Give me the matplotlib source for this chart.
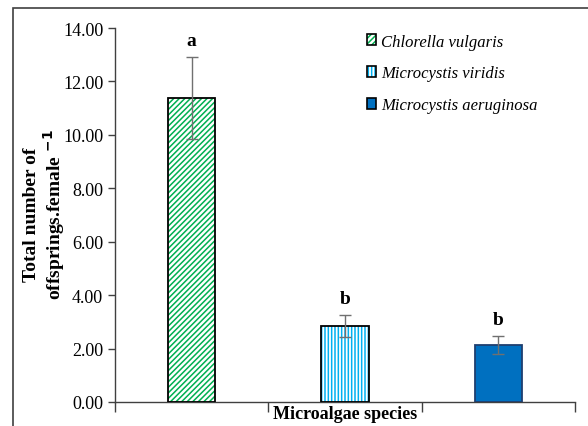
import numpy as np
import matplotlib.pyplot as plt
from matplotlib.patches import Rectangle
from matplotlib.legend_handler import HandlerTuple

species = ['Chlorella vulgaris', 'Microcystis viridis', 'Microcystis aeruginosa']
offspring = [11.38, 2.85, 2.13]
sd = [1.55, 0.40, 0.34]
letters = ['a', 'b', 'b']

plt.rcParams['font.family'] = ['Liberation Serif', 'DejaVu Serif']
plt.rcParams['hatch.linewidth'] = 1.1

fig = plt.figure(figsize=(5.88, 4.27), dpi=100)
ax = fig.add_axes([115/588, 1 - 403/427, 460/588, 374/427])

# outer frame (clipped at right/bottom like the source)
fig.patches.append(Rectangle((13/588, -0.1), 1.2, 1 - 9/427 + 0.1,
                             transform=fig.transFigure, fill=False,
                             edgecolor='#404040', linewidth=1.2))

x = np.arange(3)
faces = ['white', 'white', '#0070C0']
hatch_cols = ['#00B050', '#00B0F0', '#0070C0']
hatches = ['//////', '|||||', None]
edges = ['black', 'black', '#1F3F6F']

for i in x:
    ax.bar(i, offspring[i], width=0.31, color=faces[i], edgecolor=hatch_cols[i],
           hatch=hatches[i], linewidth=0, zorder=2)
    ax.bar(i, offspring[i], width=0.31, fill=False, edgecolor=edges[i],
           linewidth=1.3, zorder=3)
    ax.errorbar(i, offspring[i], yerr=sd[i], fmt='none', ecolor='#707070',
                elinewidth=1, capsize=4, capthick=1, zorder=4)
    ax.text(i, offspring[i] + sd[i] + 0.3, letters[i], ha='center', va='bottom',
            fontsize=14, fontweight='bold')

ax.set_xlim(-0.5, 2.5)
ax.set_ylim(0, 14)
ax.set_yticks(np.arange(0, 15, 2))
ax.set_yticklabels([f'{v:.2f}' for v in np.arange(0, 15, 2)], fontsize=13)
ax.set_xticks([-0.5, 0.5, 1.5, 2.5])
ax.set_xticklabels([])
ax.tick_params(axis='x', direction='out', length=7, width=1, color='#404040')
ax.tick_params(axis='y', direction='out', length=5, width=1, color='#404040')
for s in ['top', 'right']:
    ax.spines[s].set_visible(False)
for s in ['left', 'bottom']:
    ax.spines[s].set_color('#404040')
    ax.spines[s].set_linewidth(1)

fig.text(345/588, 1 - 415/427, 'Microalgae species', ha='center', va='center',
         fontsize=13, fontweight='bold')
fig.text(45/588, 1 - 215/427, 'Total number of\noffsprings.female $^{\\mathbf{-1}}$',
         ha='center', va='center', rotation=90, fontsize=14, fontweight='bold',
         linespacing=1.05)

handles = []
for i in x:
    fillp = Rectangle((0, 0), 1, 1, facecolor=faces[i], edgecolor=hatch_cols[i],
                      hatch=hatches[i], linewidth=0)
    edgep = Rectangle((0, 0), 1, 1, fill=False, edgecolor='black', linewidth=1.2)
    handles.append((fillp, edgep))
leg = ax.legend(handles, species, loc='upper left', bbox_to_anchor=(0.515, 1.025),
                frameon=False, prop={'style': 'italic', 'size': 12},
                handlelength=0.55, handleheight=0.65, handletextpad=0.3,
                labelspacing=0.95, handler_map={tuple: HandlerTuple(ndivide=1)})

fig.savefig('out.png', dpi=100)
